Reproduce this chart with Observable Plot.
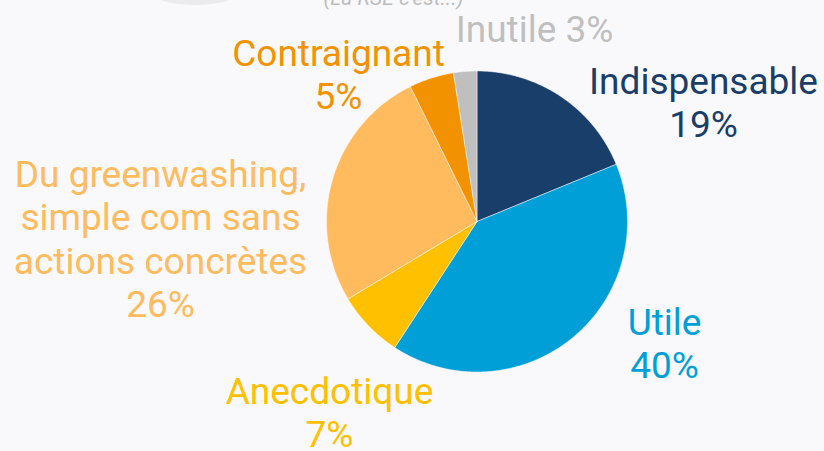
<!DOCTYPE html>
<html>
<head>
<meta charset="utf-8">
<script src="https://cdn.jsdelivr.net/npm/d3@7"></script>
<script src="https://cdn.jsdelivr.net/npm/@observablehq/plot@0.6"></script>
<style>
  html, body { margin: 0; padding: 0; background: #f9f9fc; }
  #chart svg { display: block; }
</style>
</head>
<body>
<div id="chart"></div>
<script>
// ---- data ----
const categories = ["Indispensable", "Utile", "Anecdotique", "Du greenwashing,\nsimple com sans\nactions concrètes", "Contraignant", "Inutile"];
const values = [18.8, 40.4, 7.2, 26.3, 4.8, 2.5];
const colors = ["#1a3e6a", "#009fd8", "#ffc000", "#ffbb5e", "#f39200", "#bfbfbf"];
const subtitle = "(La RSE c'est...)";

// ---- layout (positions only) ----
const W = 824, H = 451;
const cx = 476.5, cy = 221, R = 150.5;
const fs = 37, lh = 43.5;
// first-line baseline and centre x for each label, same order as categories
const labelX = [703, 664, 329, 160, 338, 534];
const labelY = [93, 334, 403, 186, 65, 41];
const inlinePct = [false, false, false, false, false, true];

// ---- slices ----
const total = d3.sum(values);
const pts = [];
let acc = 0;
categories.forEach((c, i) => {
  const a0 = acc / total * 2 * Math.PI;
  acc += values[i];
  const a1 = acc / total * 2 * Math.PI;
  pts.push({cat: c, x: cx, y: cy});
  const n = Math.max(2, Math.ceil((a1 - a0) / (Math.PI / 360)));
  for (let k = 0; k <= n; k++) {
    const a = a0 + (a1 - a0) * k / n;
    pts.push({cat: c, x: cx + R * Math.sin(a), y: cy - R * Math.cos(a)});
  }
  pts.push({cat: c, x: cx, y: cy});
});

// ---- label lines ----
const lines = [];
categories.forEach((c, i) => {
  const pct = Math.round(values[i]) + "%";
  const parts = inlinePct[i] ? [c + " " + pct] : [...c.split("\n"), pct];
  parts.forEach((t, j) => {
    lines.push({cat: c, text: t, x: labelX[i], y: labelY[i] + j * lh - 0.32 * fs});
  });
});

const plot = Plot.plot({
  width: W,
  height: H,
  margin: 0,
  style: {background: "#f9f9fc", fontFamily: "Roboto, sans-serif", overflow: "visible"},
  x: {domain: [0, W], range: [0, W], axis: null},
  y: {domain: [0, H], range: [0, H], axis: null},
  color: {domain: categories, range: colors},
  marks: [
    Plot.text([subtitle], {x: () => 393, y: () => 4.5 - 0.32 * 21, text: d => d, fontSize: 21, fontStyle: "italic", fill: "#bdbdbd", textAnchor: "middle"}),
    Plot.line(pts, {x: "x", y: "y", z: "cat", fill: "cat", stroke: "#ffffff", strokeWidth: 0.6, strokeOpacity: 0.8, curve: "linear"}),
    Plot.text(lines, {x: "x", y: "y", text: "text", fill: "cat", fontSize: fs, textAnchor: "middle", lineAnchor: "middle"})
  ]
});

// faint shadow blob at the top-left (cut off by the frame)
d3.select(plot).insert("ellipse", ":first-child")
  .attr("cx", 195).attr("cy", -4).attr("rx", 38).attr("ry", 9)
  .attr("fill", "#ebebed");
d3.select(plot).insert("rect", ":first-child")
  .attr("width", W).attr("height", H).attr("fill", "#f9f9fc");

document.getElementById("chart").appendChild(plot);
</script>
</body>
</html>
